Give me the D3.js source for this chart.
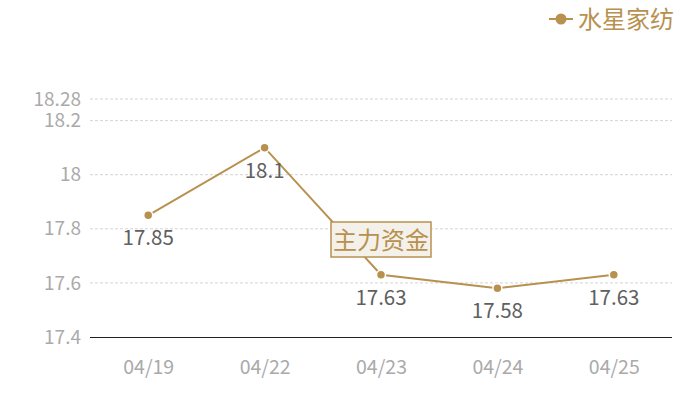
<!DOCTYPE html>
<html>
<head>
<meta charset="utf-8">
<script src="https://cdn.jsdelivr.net/npm/d3@7"></script>
<style>
  body { margin: 0; background: #fff; }
  text { font-family: "Noto Sans CJK SC", "Noto Sans", sans-serif; }
</style>
</head>
<body>
<svg width="700" height="400"></svg>
<script>
// data
var dates = ["04/19", "04/22", "04/23", "04/24", "04/25"];
var prices = [17.85, 18.1, 17.63, 17.58, 17.63];
var yTicks = [17.4, 17.6, 17.8, 18, 18.2, 18.28];
var seriesName = "水星家纺";
var badgeText = "主力资金";

var svg = d3.select("svg"),
  margin = { top: 99, right: 28, bottom: 63, left: 90 },
  width = +svg.attr("width") - margin.left - margin.right,
  height = +svg.attr("height") - margin.top - margin.bottom,
  gold = "#b8914f";

var x = d3.scalePoint().domain(dates).range([0, width]).padding(0.5);
var y = d3.scaleLinear().domain([17.4, 18.28]).range([height, 0]);

var g = svg.append("g").attr("transform", "translate(" + margin.left + "," + margin.top + ")");

// grid lines (dashed), except the base line
g.selectAll(".grid").data(yTicks.slice(1)).enter().append("line")
  .attr("x1", 0).attr("x2", width)
  .attr("y1", function(d) { return y(d); }).attr("y2", function(d) { return y(d); })
  .attr("stroke", "#d4d4d4").attr("stroke-dasharray", "3,2");

// base line
g.append("line").attr("x1", 0).attr("x2", width)
  .attr("y1", height + 0.5).attr("y2", height + 0.5)
  .attr("stroke", "#222").attr("stroke-width", 1)
  .attr("shape-rendering", "crispEdges");

// y axis labels
var yAxis = g.append("g").call(d3.axisLeft(y).tickValues(yTicks).tickSize(0).tickPadding(9).tickFormat(function(d) { return String(d); }));
yAxis.select(".domain").remove();
yAxis.selectAll("text").attr("fill", "#aaa").style("font-size", "19px");

// x axis labels
var xAxis = g.append("g").attr("transform", "translate(0," + height + ")")
  .call(d3.axisBottom(x).tickSize(0).tickPadding(23));
xAxis.select(".domain").remove();
xAxis.selectAll("text").attr("fill", "#aaa").style("font-size", "19.5px");

// line
var line = d3.line().x(function(d, i) { return x(dates[i]); }).y(function(d) { return y(d); });
g.append("path").datum(prices)
  .attr("d", line).attr("fill", "none").attr("stroke", gold).attr("stroke-width", 2);

// badge in the middle
var bx = width / 2, by = 240 - margin.top;
g.append("rect").attr("x", bx - 50).attr("y", by - 18).attr("width", 100).attr("height", 35)
  .attr("fill", "#f4f0ea").attr("stroke", gold).attr("stroke-width", 1.5);
g.append("text").attr("x", bx).attr("y", by + 9).attr("text-anchor", "middle")
  .attr("fill", gold).style("font-size", "24px").text(badgeText);

// points
g.selectAll(".pt").data(prices).enter().append("circle")
  .attr("cx", function(d, i) { return x(dates[i]); })
  .attr("cy", function(d) { return y(d); })
  .attr("r", 4.5).attr("fill", gold).attr("stroke", "#fff").attr("stroke-width", 1.5);

// value labels
g.selectAll(".lbl").data(prices).enter().append("text")
  .attr("x", function(d, i) { return x(dates[i]); })
  .attr("y", function(d) { return y(d) + 30; })
  .attr("text-anchor", "middle").attr("fill", "#606060").style("font-size", "20.5px")
  .text(function(d) { return String(d); });

// legend
var lg = svg.append("g").attr("transform", "translate(549,19)");
lg.append("line").attr("x1", 0).attr("x2", 24).attr("stroke", gold).attr("stroke-width", 2);
lg.append("circle").attr("cx", 12).attr("r", 5.5).attr("fill", gold);
lg.append("text").attr("x", 29).attr("y", 9).attr("fill", gold).style("font-size", "24px").text(seriesName);
</script>
</body>
</html>
